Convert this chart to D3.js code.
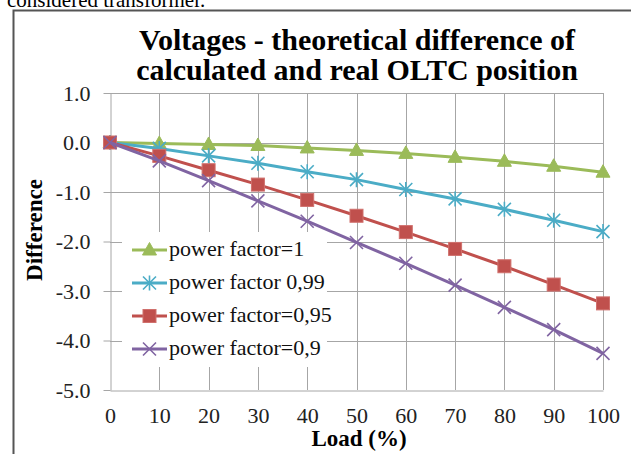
<!DOCTYPE html>
<html><head><meta charset="utf-8">
<script src="https://cdn.jsdelivr.net/npm/d3@7"></script>
<style>html,body{margin:0;padding:0;background:#fff;}svg{display:block;}</style>
</head><body>
<script>
const loads = [0,10,20,30,40,50,60,70,80,90,100];
const pf1   = [0,-0.02,-0.04,-0.06,-0.11,-0.16,-0.22,-0.30,-0.38,-0.48,-0.60];
const pf099 = [0,-0.12,-0.27,-0.42,-0.59,-0.75,-0.95,-1.14,-1.35,-1.57,-1.80];
const pf095 = [0,-0.27,-0.56,-0.85,-1.16,-1.48,-1.81,-2.15,-2.50,-2.87,-3.25];
const pf09  = [0,-0.37,-0.77,-1.18,-1.59,-2.02,-2.44,-2.88,-3.33,-3.78,-4.26];
const seriesNames = ["power factor=1","power factor 0,99","power factor=0,95","power factor=0,9"];
const seriesColors = ["#9BBB59","#4BACC6","#C0504D","#8064A2"];
const seriesMarkers = ["triangle","star","square","x"];
const yTicks = [1,0,-1,-2,-3,-4,-5];
const xTicks = [0,10,20,30,40,50,60,70,80,90,100];
const titleLines = ["Voltages - theoretical difference of","calculated and real OLTC position"];

const W=631,H=454;
const svg=d3.select("body").append("svg").attr("width",W).attr("height",H);
svg.append("rect").attr("width",W).attr("height",H).attr("fill","#fff");
const serif="'Liberation Serif','Times New Roman',serif";

svg.append("text").attr("x",7).attr("y",7).attr("font-family",serif).attr("font-size",21).attr("fill","#000").text("considered transformer.");
svg.append("path").attr("d","M13.5,454V10.5H631").attr("fill","none").attr("stroke","#555").attr("stroke-width",2);

const x=d3.scaleLinear().domain([0,100]).range([110,603]);
const y=d3.scaleLinear().domain([-5,1]).range([390,93]);
const grid="#A6A6A6";
const fmtY=d=>d3.format(".1f")(d).replace("\u2212","-");

// gridlines
svg.append("g").selectAll("line").data(yTicks.filter(d=>d>-5)).join("line")
  .attr("x1",110).attr("x2",603).attr("y1",d=>Math.round(y(d))+0.5).attr("y2",d=>Math.round(y(d))+0.5)
  .attr("stroke",grid).attr("stroke-width",1);
svg.append("g").selectAll("line").data(xTicks.filter(d=>d>0)).join("line")
  .attr("x1",d=>Math.round(x(d))+0.5).attr("x2",d=>Math.round(x(d))+0.5).attr("y1",93).attr("y2",390)
  .attr("stroke",grid).attr("stroke-width",1);

// axes
const yAxis=svg.append("g").attr("transform","translate(110.5,0)")
  .call(d3.axisLeft(y).tickValues(yTicks).tickSize(7).tickSizeOuter(0).tickPadding(13).tickFormat(fmtY));
yAxis.select(".domain").attr("stroke",grid);
yAxis.selectAll(".tick line").attr("stroke",grid);
yAxis.selectAll("text").attr("font-family",serif).attr("font-size",22).attr("fill","#222");

const xAxis=svg.append("g").attr("transform","translate(0,390.5)")
  .call(d3.axisBottom(x).tickValues(xTicks).tickSize(0).tickSizeOuter(0).tickPadding(17).tickFormat(d3.format("d")));
xAxis.select(".domain").attr("stroke",grid);
xAxis.selectAll("text").attr("font-family",serif).attr("font-size",22).attr("fill","#222");

// titles
svg.append("g").selectAll("text").data(titleLines).join("text")
  .attr("x",357).attr("y",(d,i)=>50+i*30).attr("text-anchor","middle")
  .attr("font-family",serif).attr("font-weight","bold").attr("font-size",30).attr("fill","#000").text(d=>d);
svg.append("text").attr("x",359).attr("y",446).attr("text-anchor","middle")
  .attr("font-family",serif).attr("font-weight","bold").attr("font-size",23).text("Load (%)");
svg.append("text").attr("transform","translate(42,230) rotate(-90)").attr("text-anchor","middle")
  .attr("font-family",serif).attr("font-weight","bold").attr("font-size",23).text("Difference");

function marker(g,type,color,cx,cy){
  if(type==="triangle"){
    g.append("path").attr("d",`M${cx},${cy-7.5}L${cx+7},${cy+5}L${cx-7},${cy+5}Z`).attr("fill",color).attr("stroke",color).attr("stroke-width",1);
  } else if(type==="square"){
    g.append("rect").attr("x",cx-6.5).attr("y",cy-6.5).attr("width",13).attr("height",13).attr("fill",color).attr("stroke","#D0706D").attr("stroke-width",1);
  } else if(type==="star"){
    const r=6.5;
    g.append("path").attr("d",`M${cx-r},${cy-r}L${cx+r},${cy+r}M${cx-r},${cy+r}L${cx+r},${cy-r}M${cx},${cy-r-1}L${cx},${cy+r+1}`)
      .attr("stroke",color).attr("stroke-width",1.6).attr("fill","none");
  } else {
    const r=6.5;
    g.append("path").attr("d",`M${cx-r},${cy-r}L${cx+r},${cy+r}M${cx-r},${cy+r}L${cx+r},${cy-r}`)
      .attr("stroke",color).attr("stroke-width",1.6).attr("fill","none");
  }
}

const allSeries=[pf1,pf099,pf095,pf09];
const line=d3.line().x((d,i)=>x(loads[i])).y(d=>y(d));
allSeries.forEach((vals,k)=>{
  const g=svg.append("g");
  g.append("path").datum(vals).attr("d",line).attr("fill","none").attr("stroke",seriesColors[k]).attr("stroke-width",3).attr("stroke-linejoin","round");
  vals.forEach((v,i)=>marker(g,seriesMarkers[k],seriesColors[k],x(loads[i]),y(v)));
});

// legend
svg.append("rect").attr("x",122).attr("y",232).attr("width",205).attr("height",135).attr("fill","#fff");
seriesNames.forEach((n,k)=>{
  const ly=250+k*33;
  const g=svg.append("g");
  g.append("line").attr("x1",132).attr("x2",167).attr("y1",ly).attr("y2",ly).attr("stroke",seriesColors[k]).attr("stroke-width",3);
  marker(g,seriesMarkers[k],seriesColors[k],149.5,ly);
  g.append("text").attr("x",169).attr("y",ly+6).attr("font-family",serif).attr("font-size",22).attr("fill","#111").text(n);
});
</script>
</body></html>
